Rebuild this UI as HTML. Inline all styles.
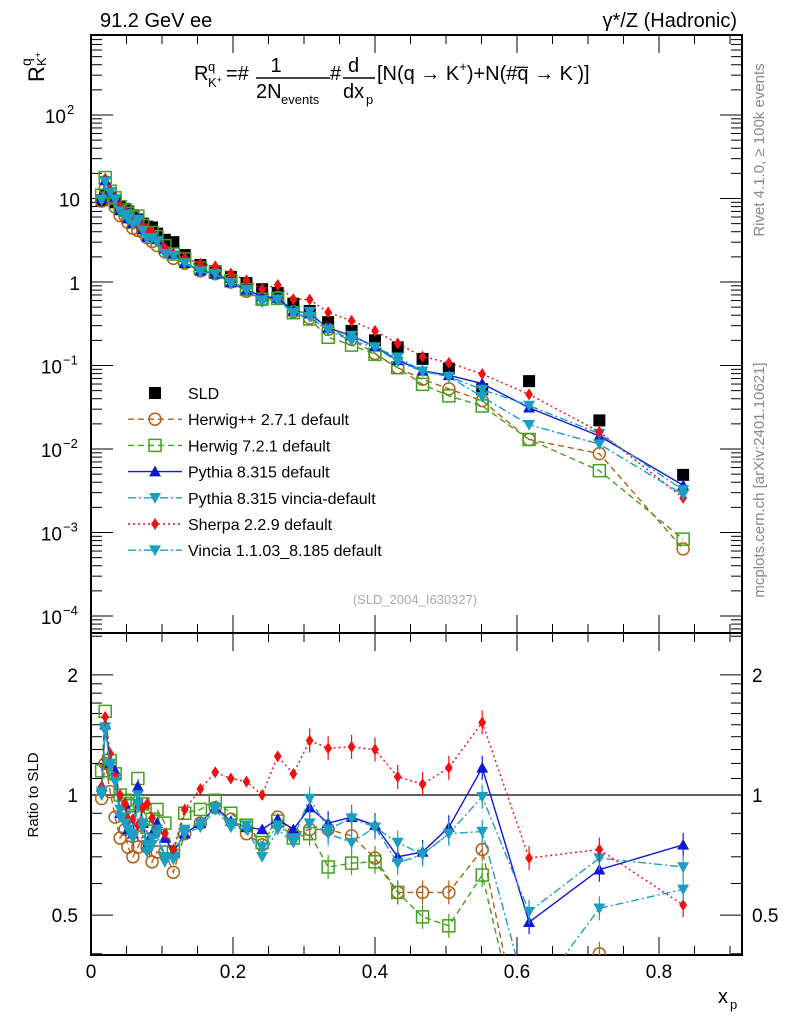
<!DOCTYPE html>
<html><head><meta charset="utf-8"><style>
html,body{margin:0;padding:0;background:#fff;width:786px;height:1024px;overflow:hidden;}
svg{display:block;font-family:"Liberation Sans",sans-serif;}
</style></head><body>
<svg id="c" width="786" height="1024" viewBox="0 0 786 1024" xmlns="http://www.w3.org/2000/svg">
<text x="100" y="27" font-size="20">91.2 GeV ee</text>
<text x="737" y="27" font-size="20" text-anchor="end">γ*/Z (Hadronic)</text>
<text transform="translate(764,150) rotate(-90)" font-size="15" fill="#888" text-anchor="middle">Rivet 4.1.0, ≥ 100k events</text>
<text transform="translate(764,480) rotate(-90)" font-size="15" fill="#888" text-anchor="middle">mcplots.cern.ch [arXiv:2401.10621]</text>
<g>
<text transform="translate(44,82) rotate(-90)" font-size="22">R</text>
<text transform="translate(31,66) rotate(-90)" font-size="14">q</text>
<text transform="translate(46,66) rotate(-90)" font-size="13">K<tspan font-size="9" dy="-5">+</tspan></text>
</g>
<g font-size="20">
<text x="194" y="80">R</text><text x="208" y="71" font-size="13">q</text><text x="208" y="87" font-size="13">K<tspan font-size="9" dy="-4">+</tspan></text>
<text x="226" y="80">=#</text>
<text x="276" y="72" text-anchor="middle">1</text>
<line x1="256" y1="78" x2="330" y2="78" stroke="#000" stroke-width="1.5"/>
<text x="256" y="98">2N</text><text x="281" y="104" font-size="13">events</text>
<text x="330" y="80">#</text>
<text x="348" y="72">d</text>
<line x1="343" y1="78" x2="375" y2="78" stroke="#000" stroke-width="1.5"/>
<text x="343" y="98">dx</text><text x="366" y="104" font-size="13">p</text>
<text x="377" y="80">[N(q →  K<tspan font-size="13" dy="-9">+</tspan><tspan dy="9">)+N(#q̅ →  K</tspan><tspan font-size="13" dy="-9">-</tspan><tspan dy="9">)]</tspan></text>
</g>
<text x="415" y="604" font-size="13" fill="#aaa" text-anchor="middle">(SLD_2004_I630327)</text>
<text transform="translate(38,795) rotate(-90)" font-size="15" text-anchor="middle">Ratio to SLD</text>
<g><text x="718" y="1003" font-size="20">x</text><text x="730" y="1009" font-size="13">p</text></g>
<g id="axes"></g>
<g id="marks"></g>
<g id="legend"></g>
</svg>
<script>
const xs=[0.015,0.020,0.027,0.034,0.041,0.048,0.052,0.059,0.066,0.073,0.079,0.086,0.093,0.104,0.116,0.132,0.154,0.175,0.197,0.219,0.241,0.263,0.285,0.308,0.334,0.367,0.4,0.432,0.467,0.504,0.551,0.617,0.716,0.834];
const sld=[9.5,11,10,9,8,7.5,7,6.3,5.6,5,4.6,4.5,3.8,3.2,3.0,2.1,1.6,1.35,1.15,0.97,0.82,0.74,0.55,0.45,0.33,0.26,0.2,0.165,0.12,0.092,0.052,0.065,0.022,0.0049];
const rHerwigpp=[0.98,1.2,1.02,0.88,0.78,0.82,0.74,0.70,0.74,0.79,0.74,0.68,0.72,0.72,0.64,0.80,0.85,0.93,0.87,0.80,0.75,0.88,0.80,0.82,0.82,0.79,0.695,0.57,0.57,0.57,0.73,0.2,0.40,0.13];
const rHerwig7=[1.15,1.62,1.22,1.13,1.0,0.97,0.95,0.94,1.1,0.95,0.83,0.87,0.92,0.85,0.72,0.90,0.92,0.97,0.90,0.84,0.76,0.86,0.78,0.80,0.66,0.675,0.68,0.57,0.495,0.47,0.63,0.2,0.25,0.17];
const rPythia=[1.05,1.5,1.2,1.15,0.9,0.95,0.82,0.8,1.05,0.85,0.75,0.8,0.85,0.78,0.72,0.80,0.85,0.93,0.86,0.83,0.82,0.87,0.82,0.93,0.85,0.88,0.84,0.70,0.72,0.83,1.17,0.48,0.65,0.75];
const rPythiaVincia=[1.0,1.48,1.2,1.1,0.92,0.88,0.85,0.8,1.0,0.85,0.75,0.78,0.82,0.7,0.70,0.82,0.85,0.93,0.85,0.84,0.74,0.84,0.78,0.98,0.82,0.875,0.83,0.76,0.71,0.80,0.99,0.51,0.695,0.66];
const rSherpa=[1.05,1.57,1.27,1.11,1.0,0.95,0.87,0.87,0.84,0.93,0.95,0.875,0.80,0.80,0.73,0.92,1.035,1.14,1.10,1.08,1.0,1.25,1.13,1.37,1.31,1.32,1.30,1.11,1.065,1.17,1.52,0.695,0.73,0.53];
const rVincia=[1.02,1.45,1.18,1.08,0.88,0.85,0.82,0.78,0.95,0.83,0.72,0.75,0.80,0.68,0.69,0.80,0.83,0.92,0.83,0.82,0.70,0.82,0.76,0.85,0.80,0.76,0.83,0.675,0.71,0.80,0.81,0.30,0.52,0.58];
const xTicks=[0,0.2,0.4,0.6,0.8];
const xTickLabels=["0","0.2","0.4","0.6","0.8"];
const yExps=[-4,-3,-2,-1,0,1,2];
const yTickLabels=["10","10","10","10","1","10","10"];
const ySup=["−4","−3","−2","−1","","","2"];
const rTicks=[0.5,1,2];
const rTickLabels=["0.5","1","2"];

const NS="http://www.w3.org/2000/svg";
const L=91,R=742,T=35,M=633,B=955;
const X=v=>L+710*v;
const Y=v=>282-83.5*Math.log10(v);
const RY=v=>795-399*Math.log10(v);
function mk(tag,attrs,parent){const e=document.createElementNS(NS,tag);for(const k in attrs)e.setAttribute(k,attrs[k]);parent.appendChild(e);return e;}
const axes=document.getElementById('axes'),marks=document.getElementById('marks'),leg=document.getElementById('legend');

let f1=mk('rect',{x:L,y:T,width:R-L,height:M-T,fill:'none',stroke:'#000','stroke-width':2},axes);


let f2=mk('rect',{x:L,y:M,width:R-L,height:B-M,fill:'none',stroke:'#000','stroke-width':2},axes);


for(let v=0;v<=0.91;v+=0.05){const major=Math.abs(v/0.2-Math.round(v/0.2))<1e-6;const len=major?18:9;
 for(const [y0,d] of [[T,1],[M,-1],[M,1],[B,-1]]) mk('line',{x1:X(v),x2:X(v),y1:y0,y2:y0+d*len,stroke:'#000','stroke-width':1},axes);}
xTicks.forEach((v,i)=>{const t=mk('text',{x:X(v),y:978,'font-size':19,'text-anchor':'middle'},axes);t.textContent=xTickLabels[i];
 
 });
for(let e=-5;e<=2;e++){for(let m=1;m<10;m++){const v=m*Math.pow(10,e);const y=Y(v);if(y<T||y>M)continue;const len=m==1?22:11;
 mk('line',{x1:L,x2:L+len,y1:y,y2:y,stroke:'#000','stroke-width':1},axes);mk('line',{x1:R,x2:R-len,y1:y,y2:y,stroke:'#000','stroke-width':1},axes);}}
yExps.forEach((e,i)=>{const y=Y(Math.pow(10,e));const t=mk('text',{x:ySup[i]?(e<0?62:66):80,y:y+8,'font-size':19,'text-anchor':'end'},axes);t.textContent=yTickLabels[i];
 
 
 if(ySup[i]){const s=mk('text',{x:e<0?63:67,y:y-1,'font-size':13},axes);s.textContent=ySup[i];}});
for(const v of [0.4,0.5,0.6,0.7,0.8,0.9,1,1.1,1.2,1.3,1.4,1.5,1.6,1.7,1.8,1.9,2,2.5]){const y=RY(v);if(y<M||y>B)continue;const len=(v==0.5||v==1||v==2)?22:11;
 mk('line',{x1:L,x2:L+len,y1:y,y2:y,stroke:'#000','stroke-width':1},axes);mk('line',{x1:R,x2:R-len,y1:y,y2:y,stroke:'#000','stroke-width':1},axes);}
rTicks.forEach((v,i)=>{const y=RY(v)+7;const t=mk('text',{x:78,y:y,'font-size':19,'text-anchor':'end'},axes);t.textContent=rTickLabels[i];
 
 
 const t2=mk('text',{x:752,y:y,'font-size':19},axes);t2.textContent=rTickLabels[i];
 
 });
let ref=mk('line',{x1:L,x2:R,y1:RY(1),y2:RY(1),stroke:'#000','stroke-width':1.2},axes);



function marker(g,type,cx,cy,col){const s=6;
 if(type=='sq') return mk('rect',{x:cx-s,y:cy-s,width:2*s,height:2*s,fill:'#000'},g);
 if(type=='circ') return mk('circle',{cx:cx,cy:cy,r:s,fill:'none',stroke:col,'stroke-width':1.5},g);
 if(type=='osq') return mk('rect',{x:cx-s,y:cy-s,width:2*s,height:2*s,fill:'none',stroke:col,'stroke-width':1.5},g);
 if(type=='up') return mk('polygon',{points:`${cx},${cy-s} ${cx-s},${cy+s*0.8} ${cx+s},${cy+s*0.8}`,fill:col},g);
 if(type=='down') return mk('polygon',{points:`${cx},${cy+s} ${cx-s},${cy-s*0.8} ${cx+s},${cy-s*0.8}`,fill:col},g);
 if(type=='dia') return mk('polygon',{points:`${cx},${cy-s} ${cx-s*0.65},${cy} ${cx},${cy+s} ${cx+s*0.65},${cy}`,fill:col},g);}

const series=[
 {name:'herwigpp',label:'Herwig++ 2.7.1 default',r:rHerwigpp,col:'#b35f1a',dash:'6,4',m:'circ'},
 {name:'herwig7',label:'Herwig 7.2.1 default',r:rHerwig7,col:'#44a01f',dash:'6,4',m:'osq'},
 {name:'pythia',label:'Pythia 8.315 default',r:rPythia,col:'#1018d8',dash:'',m:'up'},
 {name:'pythia-vincia',label:'Pythia 8.315 vincia-default',r:rPythiaVincia,col:'#1a9fc0',dash:'8,3,2,3',m:'down'},
 {name:'sherpa',label:'Sherpa 2.2.9 default',r:rSherpa,col:'#f01010',dash:'2,3',m:'dia'},
 {name:'vincia',label:'Vincia 1.1.03_8.185 default',r:rVincia,col:'#1a9fc0',dash:'8,3,2,3',m:'down'}];

const defs=mk('defs',{},marks);
const c1=mk('clipPath',{id:'cp1'},defs);mk('rect',{x:L,y:T,width:R-L,height:M-T},c1);
const c2=mk('clipPath',{id:'cp2'},defs);mk('rect',{x:L,y:M,width:R-L,height:B-M},c2);
const gTop=mk('g',{'clip-path':'url(#cp1)'},marks);


const gRat=mk('g',{'clip-path':'url(#cp2)'},marks);



const sg=mk('g',{},gTop);


xs.forEach((x,i)=>{const p=marker(sg,'sq',X(x),Y(sld[i]));
 
 });

series.forEach(s=>{
 const top=mk('g',{},gTop);
 
 
 const rat=mk('g',{},gRat);
 
 
 const ptsT=xs.map((x,i)=>X(x)+','+Y(sld[i]*s.r[i])).join(' ');
 const ptsR=xs.map((x,i)=>X(x)+','+RY(s.r[i])).join(' ');
 mk('polyline',{points:ptsT,fill:'none',stroke:s.col,'stroke-width':1.4,'stroke-dasharray':s.dash},top);
 mk('polyline',{points:ptsR,fill:'none',stroke:s.col,'stroke-width':1.4,'stroke-dasharray':s.dash},rat);
 xs.forEach((x,i)=>{
  const a=marker(top,s.m,X(x),Y(sld[i]*s.r[i]),s.col);
  
  
  if(x>0.3){mk('line',{x1:X(x),x2:X(x),y1:RY(s.r[i])-12,y2:RY(s.r[i])+12,stroke:s.col,'stroke-width':1.2},rat);}
  const b=marker(rat,s.m,X(x),RY(s.r[i]),s.col);
  
  });
});

const legItems=[{label:'SLD',m:'sq',col:'#000',dash:null}].concat(series);
legItems.forEach((s,i)=>{const y=393+i*26.2;
 const g=mk('g',{},leg);
 
 
 if(s.dash!==null) mk('line',{x1:128,x2:182,y1:y,y2:y,stroke:s.col,'stroke-width':1.4,'stroke-dasharray':s.dash},g);
 marker(g,s.m,155,y,s.col);
 const t=mk('text',{x:188,y:y+6,'font-size':16},g);t.textContent=s.label;});
</script>
</body></html>
